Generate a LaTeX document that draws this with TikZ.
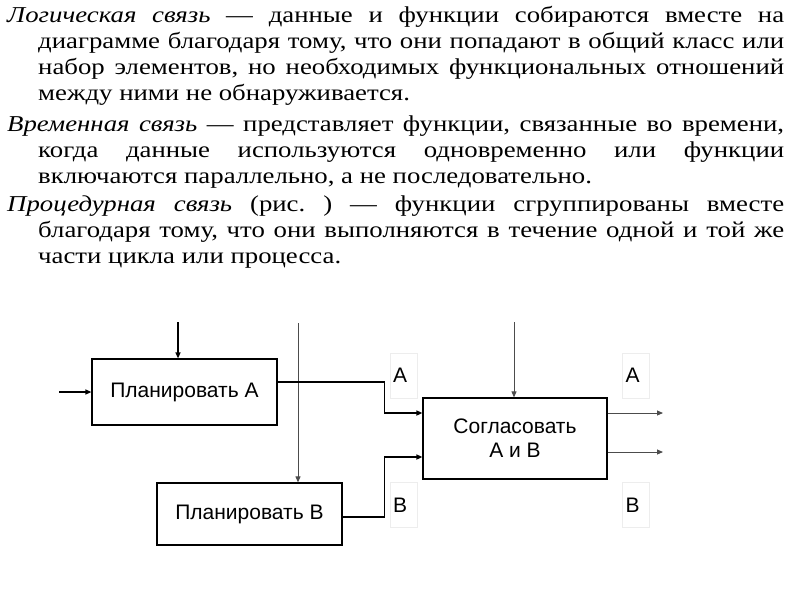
\documentclass[tikz,border=0pt]{standalone}
\usepackage{fontspec}
\setmainfont[FakeStretch=1.18]{Liberation Serif}
\newfontfamily\diafont{Liberation Sans}
\usetikzlibrary{arrows.meta}
\newcommand\justline[2]{\makebox[#1][s]{#2}}
\frenchspacing
\begin{document}
\begin{tikzpicture}[x=1pt,y=-1pt,
  tl/.style={anchor=base west, inner sep=0pt, font=\fontsize{22.7pt}{25.8pt}\selectfont\frenchspacing},
  box/.style={draw, line width=1.2pt, inner sep=0pt, align=center,
    font=\diafont\fontsize{21pt}{24pt}\selectfont},
  lab/.style={draw=black!7, line width=0.6pt, minimum height=45pt, text width=21pt,
    align=left, inner sep=3pt, font=\diafont\fontsize{21pt}{24pt}\selectfont},
  arr/.style={-{Triangle[length=6pt,width=5pt]}},
  ln/.style={line width=1.2pt, black},
  thinln/.style={line width=0.9pt, black!70},
]
\path[use as bounding box] (0,0) rectangle (800,600);

% text
\node[tl] (p1a) at (7,22.7) {\justline{777pt}{\textit{Логическая связь} — данные и функции собираются вместе на}};
\node[tl] (p1b) at (38,48.5) {\justline{746pt}{диаграмме благодаря тому, что они попадают в общий класс или}};
\node[tl] (p1c) at (38,74.3) {\justline{746pt}{набор элементов, но необходимых функциональных отношений}};
\node[tl] (p1d) at (38,100.1) {между ними не обнаруживается.};
\node[tl] (p2a) at (7,131.7) {\justline{777pt}{\textit{Временная связь} — представляет функции, связанные во времени,}};
\node[tl] (p2b) at (38,157.5) {\justline{746pt}{когда данные используются одновременно или функции}};
\node[tl] (p2c) at (38,183.3) {включаются параллельно, а не последовательно.};
\node[tl] (p3a) at (7,211.7) {\justline{777pt}{\textit{Процедурная связь} (рис. ) — функции сгруппированы вместе}};
\node[tl] (p3b) at (38,237.5) {\justline{746pt}{благодаря тому, что они выполняются в течение одной и той же}};
\node[tl] (p3c) at (38,263.3) {части цикла или процесса.};

% boxes
\node[box, minimum width=185pt, minimum height=66pt] (A) at (184.5,392) {Планировать А};
\node[box, minimum width=185pt, minimum height=62pt] (B) at (249.5,514) {Планировать В};
\node[box, minimum width=184pt, minimum height=81pt] (C) at (515,438.5) {Согласовать\\А и В};

% labels
\node[lab] (labA1) at (403.5,375.5) {A};
\node[lab] (labB1) at (403.5,505) {B};
\node[lab] (labA2) at (636,375.5) {A};
\node[lab] (labB2) at (636,505) {B};

% connectors
\coordinate (inA) at (59,392);
\draw[ln,arr] (inA) -- (A.west);
\coordinate (ctlA) at (178,322);
\draw[ln,arr] (ctlA) -- (ctlA |- A.north);
\coordinate (ctlB) at (298,323);
\draw[thinln,arr] (ctlB) -- (ctlB |- B.north);
\draw[line width=1.5pt,arr] ([yshift=10pt]A.east) -- ++(107,0) |- ([yshift=25.5pt]C.west);
\draw[line width=1.5pt,arr] ([yshift=-3pt]B.east) -- ++(42,0) |- ([yshift=-18.5pt]C.west);
\coordinate (ctlC) at (514,322);
\draw[thinln,arr] (ctlC) -- (ctlC |- C.north);
\coordinate (oA) at (663,413);
\coordinate (oB) at (663,452);
\draw[thinln,arr] ([yshift=25.5pt]C.east) -- (oA);
\draw[thinln,arr] ([yshift=-13.5pt]C.east) -- (oB);
\end{tikzpicture}
\end{document}
